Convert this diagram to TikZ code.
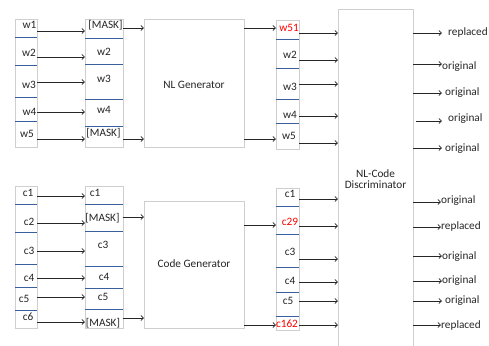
\documentclass[tikz,border=0pt]{standalone}
\usepackage{fontspec}
\setmainfont{Carlito}
\usetikzlibrary{arrows.meta}
\definecolor{boxgray}{HTML}{CFCFCF}
\definecolor{sepblue}{HTML}{3A5FA0}
\definecolor{ink}{HTML}{262626}
\begin{document}
\begin{tikzpicture}[x=1bp,y=-1bp,
  font=\fontsize{11.3}{13}\selectfont,
  box/.style={draw=boxgray,line width=0.9bp,inner sep=0pt,outer sep=0pt,fill=white},
  sep/.style={draw=sepblue,line width=0.8bp},
  lab/.style={inner sep=0pt,text=ink,anchor=center},
  redlab/.style={inner sep=0pt,text=red,anchor=center},
  olab/.style={inner sep=0pt,text=ink,anchor=west},
  arr/.style={draw=ink,line width=0.8bp,-{Straight Barb[length=2.6bp,width=5bp]}}]
\useasboundingbox (0,0) rectangle (489,345);
% boxes
\node[box,minimum width=22.3bp,minimum height=128bp] (A1) at (26.2,83) {};
\node[box,minimum width=38bp,minimum height=128bp] (B1) at (104,83) {};
\node[box,minimum width=100bp,minimum height=128bp] (G1) at (194,83) {};
\node[box,minimum width=23bp,minimum height=129bp] (C1) at (287.5,84.5) {};
\node[box,minimum width=22bp,minimum height=142bp] (A2) at (26,257) {};
\node[box,minimum width=38bp,minimum height=142bp] (B2) at (104,257) {};
\node[box,minimum width=100bp,minimum height=127bp] (G2) at (194,264.5) {};
\node[box,minimum width=23bp,minimum height=142bp] (C2) at (287.5,259) {};
\node[box,minimum width=75bp,minimum height=338bp] (D) at (375.5,178) {};
% box titles
\node[lab] (g1t) at (194,85) {NL Generator};
\node[lab] (g2t) at (194,264) {Code Generator};
\node[lab,align=center] (dt) at (375.5,179) {NL-Code\\[-1.5bp]Discriminator};
% separators
\foreach \y in {37.7,65.3,97.7,121} \draw[sep] (A1.west |- 0,\y) -- (A1.east |- 0,\y);
\foreach \y in {38,64,99,126} \draw[sep] (B1.west |- 0,\y) -- (B1.east |- 0,\y);
\foreach \y in {39,68,99,123} \draw[sep] (C1.west |- 0,\y) -- (C1.east |- 0,\y);
\foreach \y in {204,232,264,287,310} \draw[sep] (A2.west |- 0,\y) -- (A2.east |- 0,\y);
\foreach \y in {204,231,266,288,309} \draw[sep] (B2.west |- 0,\y) -- (B2.east |- 0,\y);
\foreach \y in {206,234,267,292,316} \draw[sep] (C2.west |- 0,\y) -- (C2.east |- 0,\y);
% column 1 labels
\node[lab] (a11) at (29.5,25) {w1};
\node[lab] (a12) at (29,53) {w2};
\node[lab] (a13) at (29,85) {w3};
\node[lab] (a14) at (29.5,112) {w4};
\node[lab] (a15) at (27,134) {w5};
\node[lab] (a21) at (28,193) {c1};
\node[lab] (a22) at (29,222) {c2};
\node[lab] (a23) at (29,251) {c3};
\node[lab] (a24) at (29,278) {c4};
\node[lab] (a25) at (24,299) {c5};
\node[lab] (a26) at (28,317) {c6};
% column 2 labels
\node[lab] (b11) at (105.5,25) {[MASK]};
\node[lab] (b12) at (104,52) {w2};
\node[lab] (b13) at (104,79) {w3};
\node[lab] (b14) at (104,110) {w4};
\node[lab] (b15) at (103.5,133) {[MASK]};
\node[lab] (b21) at (95,193) {c1};
\node[lab] (b22) at (102.5,218) {[MASK]};
\node[lab] (b23) at (103,245) {c3};
\node[lab] (b24) at (104,277) {c4};
\node[lab] (b25) at (103,297) {c5};
\node[lab] (b26) at (103,323) {[MASK]};
% column 3 labels
\node[redlab] (c11) at (289,28) {w51};
\node[lab] (c12) at (290,55) {w2};
\node[lab] (c13) at (290,87) {w3};
\node[lab] (c14) at (290,115) {w4};
\node[lab] (c15) at (289,136) {w5};
\node[lab] (c21) at (290,194) {c1};
\node[redlab] (c22) at (290,222) {c29};
\node[lab] (c23) at (290,252) {c3};
\node[lab] (c24) at (290,281) {c4};
\node[lab] (c25) at (288,301) {c5};
\node[redlab] (c26) at (287,324) {c162};
% output labels
\node[olab] (o11) at (448,32) {replaced};
\node[olab] (o12) at (442,67) {original};
\node[olab] (o13) at (445,93) {original};
\node[olab] (o14) at (448,119) {original};
\node[olab] (o15) at (445,149) {original};
\node[olab] (o21) at (441,201) {original};
\node[olab] (o22) at (441,226) {replaced};
\node[olab] (o23) at (442,257) {original};
\node[olab] (o24) at (442,281) {original};
\node[olab] (o25) at (445,301) {original};
\node[olab] (o26) at (441,325) {replaced};
% arrows col1 -> col2
\foreach \y in {31,57,82,112,139,196,223,251,278,297,322}
  \draw[arr] (A1.east |- 0,\y) -- (B1.west |- 0,\y);
% col2 -> generators
\foreach \y in {28,139} \draw[arr] (B1.east |- 0,\y) -- (G1.west |- 0,\y);
\foreach \y in {217,318} \draw[arr] (B2.east |- 0,\y) -- (G2.west |- 0,\y);
% generators -> col3
\foreach \y in {28,139} \draw[arr] (G1.east |- 0,\y) -- (C1.west |- 0,\y);
\foreach \y in {225,325} \draw[arr] (G2.east |- 0,\y) -- (C2.west |- 0,\y);
% col3 -> discriminator
\foreach \y in {33,60,84,116,143} \draw[arr] (C1.east |- 0,\y) -- (D.west |- 0,\y);
\foreach \y in {199,226,259,282,301,325} \draw[arr] (C2.east |- 0,\y) -- (D.west |- 0,\y);
% discriminator -> outputs
\draw[arr] (D.east |- 0,33) -- ([xshift=-6bp]o11.west |- 0,33);
\draw[arr] (D.east |- 0,64) -- (o12.west |- 0,64);
\draw[arr] (D.east |- 0,93) -- ([xshift=-3bp]o13.west |- 0,93);
\draw[arr] ([xshift=3bp]D.east |- 0,121) -- ([xshift=-6bp]o14.west |- 0,121);
\draw[arr] (D.east |- 0,148) -- ([xshift=-3bp]o15.west |- 0,148);
\draw[arr] (D.east |- 0,202) -- (o21.west |- 0,202);
\draw[arr] (D.east |- 0,227) -- (o22.west |- 0,227);
\draw[arr] (D.east |- 0,256) -- (o23.west |- 0,256);
\draw[arr] (D.east |- 0,281) -- (o24.west |- 0,281);
\draw[arr] (D.east |- 0,301) -- ([xshift=-3bp]o25.west |- 0,301);
\draw[arr] (D.east |- 0,325) -- (o26.west |- 0,325);
\end{tikzpicture}
\end{document}
